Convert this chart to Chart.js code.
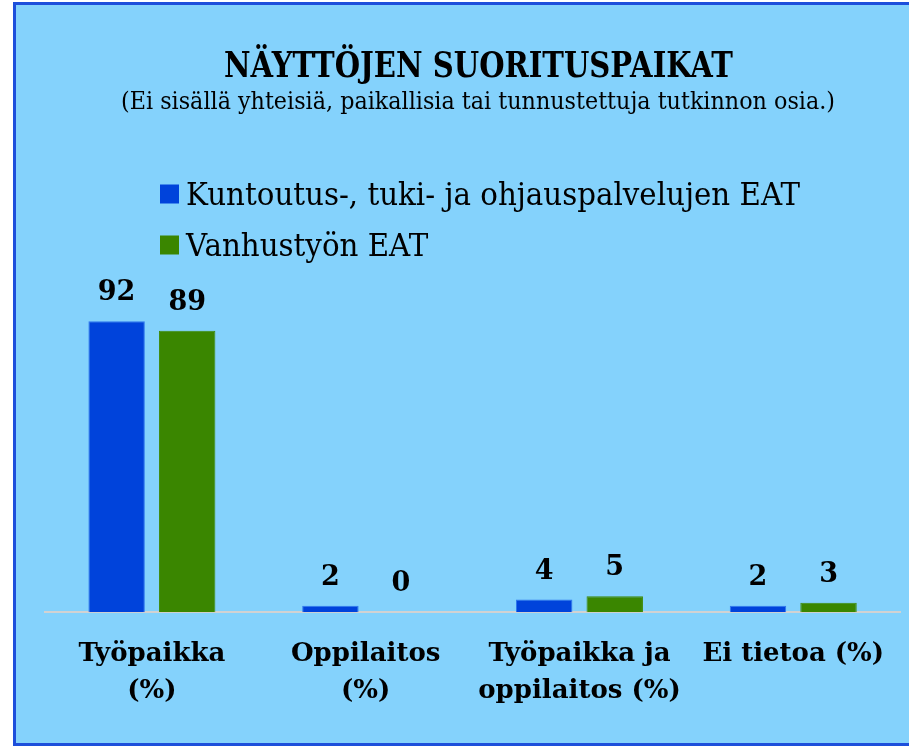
<!DOCTYPE html>
<html><head><meta charset="utf-8">
<script src="https://cdn.jsdelivr.net/npm/chart.js@4/dist/chart.umd.min.js"></script>
<style>html,body{margin:0;padding:0;background:#fff;overflow:hidden}#wrap{width:909px;height:746px;position:relative}</style>
</head><body><div id="wrap"><canvas id="c"></canvas></div>
<script>
const titleText = "NÄYTTÖJEN SUORITUSPAIKAT";
const subtitleText = "(Ei sisällä yhteisiä, paikallisia tai tunnustettuja tutkinnon osia.)";
const categories = [["Työpaikka","(%)"],["Oppilaitos","(%)"],["Työpaikka ja","oppilaitos (%)"],"Ei tietoa (%)"];
const seriesNames = ["Kuntoutus-, tuki- ja ohjauspalvelujen EAT","Vanhustyön EAT"];
const kuntoutusValues = [92,2,4,2];
const vanhustyoValues = [89,0,5,3];
const seriesColors = ["#0043DB","#3A8600"];
const seriesBorders = ["#2f78ee","#3f8a08"];

function fitText(ctx, str, x, y, font, width, align, scale){
  ctx.font = font;
  const w = ctx.measureText(str).width;
  const s = scale || width / w;
  ctx.save();
  ctx.translate(x, y);
  ctx.scale(s, 1);
  ctx.textAlign = align;
  ctx.textBaseline = 'alphabetic';
  ctx.fillStyle = '#000';
  ctx.fillText(str, 0, 0);
  ctx.restore();
  return s;
}

const decor = {
  id: 'decor',
  beforeDraw(chart){
    const ctx = chart.ctx;
    ctx.save();
    ctx.fillStyle = '#ffffff';
    ctx.fillRect(0,0,chart.width,chart.height);
    ctx.fillStyle = '#84D2FC';
    ctx.fillRect(14,3,chart.width-14,chart.height-3);
    ctx.strokeStyle = '#1D4FDB';
    ctx.lineWidth = 3;
    ctx.strokeRect(14.5,3.5,chart.width+10,chart.height-5);
    ctx.restore();
  },
  afterDatasetsDraw(chart){
    const ctx = chart.ctx;
    ctx.save();
    ctx.font = 'bold 27px "DejaVu Serif"';
    ctx.fillStyle = '#000';
    ctx.textAlign = 'center';
    ctx.textBaseline = 'middle';
    chart.data.datasets.forEach((ds, i) => {
      const meta = chart.getDatasetMeta(i);
      meta.data.forEach((el, j) => {
        ctx.fillText(String(ds.data[j]), el.x, el.y - 28);
      });
    });
    ctx.restore();
  },
  afterDraw(chart){
    const ctx = chart.ctx;
    fitText(ctx, titleText, 478.5, 77, 'bold 35px "DejaVu Serif"', 509, 'center');
    fitText(ctx, subtitleText, 478, 109, '24px "DejaVu Serif"', 714, 'center');
    const rows = [194, 245];
    let s = null;
    chart.data.datasets.forEach((ds, i) => {
      ctx.fillStyle = ds.backgroundColor;
      ctx.fillRect(160, rows[i]-9.5, 19, 19);
      const r = fitText(ctx, ds.label, 186, rows[i]+11, '31px "DejaVu Serif"', 614, 'left', s);
      if (s === null) s = r;
    });
  }
};

new Chart(document.getElementById('c'), {
  type: 'bar',
  data: {
    labels: categories,
    datasets: [
      {label: seriesNames[0], data: kuntoutusValues, backgroundColor: seriesColors[0], borderColor: seriesBorders[0], borderWidth: 1},
      {label: seriesNames[1], data: vanhustyoValues, backgroundColor: seriesColors[1], borderColor: seriesBorders[1], borderWidth: 1}
    ]
  },
  options: {
    responsive: true,
    maintainAspectRatio: false,
    animation: false,
    events: [],
    layout: {padding: {top: 296, left: 45, right: 7, bottom: 12}},
    plugins: {legend: {display: false}, tooltip: {enabled: false}, title: {display: false}},
    datasets: {bar: {categoryPercentage: 0.66, barPercentage: 0.8}},
    scales: {
      x: {
        grid: {display: false, drawTicks: false},
        border: {display: true, color: '#d2d2d2', width: 2},
        ticks: {color: '#000', font: {family: '"DejaVu Serif"', size: 26, weight: 'bold', lineHeight: 1.42}, padding: 24, autoSkip: false, maxRotation: 0, minRotation: 0}
      },
      y: {display: false, min: 0, max: 100}
    }
  },
  plugins: [decor]
});
</script>
</body></html>
